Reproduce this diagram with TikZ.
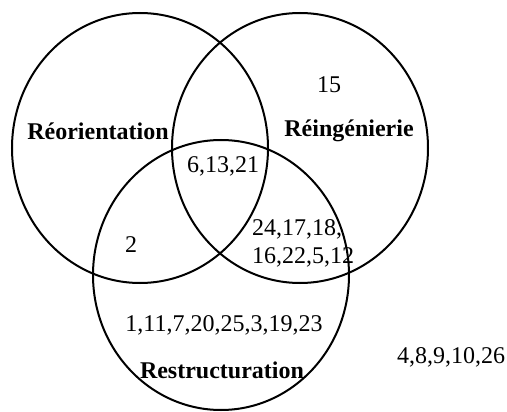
\documentclass[tikz,border=0pt]{standalone}
\usepackage{fontspec}
\setmainfont{Liberation Serif}
\usetikzlibrary{shapes.geometric}
\begin{document}
\begin{tikzpicture}[x=1pt,y=-1pt,
  setellipse/.style={draw=black,line width=2pt,ellipse,minimum width=256pt,minimum height=270pt,inner sep=0pt},
  lbl/.style={font=\fontsize{24}{26}\selectfont\bfseries,inner sep=0pt},
  num/.style={font=\fontsize{24}{28}\selectfont,inner sep=0pt,align=center}]
\useasboundingbox (0,0) rectangle (507,412);
\node[setellipse] (reo) at (140,148) {};
\node[setellipse] (rei) at (300,148) {};
\node[setellipse] (res) at (221,275) {};
\node[lbl] (treo) at (98,131) {Réorientation};
\node[lbl] (trei) at (349,131) {Réingénierie};
\node[lbl] (tres) at (222,370) {Restructuration};
\node[num] (n15) at (329,85) {15};
\node[num] (ncenter) at (223,166) {6,13,21};
\node[num] (n2) at (131,245) {2};
\node[num,align=left,anchor=west] (nri) at (252,243) {24,17,18,\\16,22,5,12};
\node[num] (nres) at (224,325) {1,11,7,20,25,3,19,23};
\node[num] (nout) at (451,357) {4,8,9,10,26};
\end{tikzpicture}
\end{document}
